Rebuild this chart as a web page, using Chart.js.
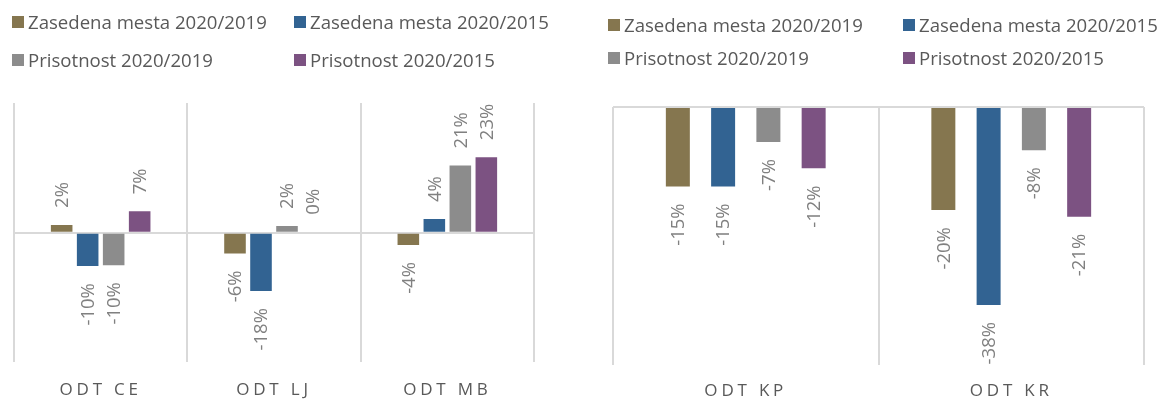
<!DOCTYPE html>
<html>
<head>
<meta charset="utf-8">
<script src="https://cdn.jsdelivr.net/npm/chart.js@4.4.1/dist/chart.umd.min.js"></script>
<style>
  html, body { margin: 0; padding: 0; background: #fff; }
  body { width: 1161px; height: 401px; position: relative; overflow: hidden; font-family: "Open Sans", sans-serif; }
  .panel { position: absolute; top: 0; height: 401px; overflow: hidden; }
  .panel canvas { position: absolute; left: 0; top: 0; }
  .item { position: absolute; height: 24px; line-height: 24px; font-size: 18.6px; color: #595959; white-space: nowrap; display: flex; align-items: center; }
  .item i { display: inline-block; width: 12px; height: 12px; margin-right: 4px; }
</style>
</head>
<body>
<div class="panel" id="leftPanel" style="left:0;width:580px;"><canvas id="leftChart" width="580" height="417"></canvas></div>
<div class="panel" id="rightPanel" style="left:580px;width:581px;"><canvas id="rightChart" width="581" height="417"></canvas></div>
<script>
// serije (v %)
const seriesNames = ['Zasedena mesta 2020/2019', 'Zasedena mesta 2020/2015', 'Prisotnost 2020/2019', 'Prisotnost 2020/2015'];
const seriesColors = ['#85764F', '#326392', '#8C8C8C', '#7C5282'];

const leftCats = ['ODT CE', 'ODT LJ', 'ODT MB'];
const leftZasedena19 = [2.4, -6.4, -3.8];
const leftZasedena15 = [-10.3, -18.0, 4.2];
const leftPrisotnost19 = [-10.0, 2.1, 20.7];
const leftPrisotnost15 = [6.6, 0.3, 23.3];

const rightCats = ['ODT KP', 'ODT KR'];
const rightZasedena19 = [-15.4, -20.0];
const rightZasedena15 = [-15.4, -38.4];
const rightPrisotnost19 = [-6.8, -8.4];
const rightPrisotnost15 = [-11.9, -21.3];

const fmtPct = (v) => Math.round(v) + '%';

// razmik črk v oznakah kategorij
const tickSpacing = {
  id: 'tickSpacing',
  beforeDraw(chart) { chart.ctx.letterSpacing = '3.8px'; },
  beforeDatasetsDraw(chart) { chart.ctx.letterSpacing = '0px'; }
};

// navpične oznake vrednosti nad/pod stolpci
const barLabels = {
  id: 'barLabels',
  afterDatasetsDraw(chart) {
    const ctx = chart.ctx;
    ctx.save();
    ctx.letterSpacing = '0px';
    ctx.font = '18.5px "Open Sans"';
    ctx.fillStyle = '#808080';
    ctx.textBaseline = 'middle';
    chart.data.datasets.forEach((ds, i) => {
      chart.getDatasetMeta(i).data.forEach((bar, j) => {
        const v = ds.data[j];
        const up = v >= 0;
        const y = up ? Math.min(bar.y, bar.base) - 17 : Math.max(bar.y, bar.base) + 17;
        ctx.save();
        ctx.translate(bar.x, y);
        ctx.rotate(-Math.PI / 2);
        ctx.textAlign = up ? 'left' : 'right';
        ctx.fillText(fmtPct(v), 0, 1);
        ctx.restore();
      });
    });
    ctx.restore();
  }
};

const makeChart = (id, cats, series, yMin, yMax, catPct, barPct, pad, tickPad) => new Chart(document.getElementById(id), {
  type: 'bar',
  data: {
    labels: cats,
    datasets: series.map((d, i) => ({
      label: seriesNames[i],
      data: d,
      backgroundColor: seriesColors[i],
      categoryPercentage: catPct,
      barPercentage: barPct
    }))
  },
  options: {
    responsive: false,
    animation: false,
    layout: { padding: pad },
    plugins: { legend: { display: false }, tooltip: { enabled: false } },
    scales: {
      x: {
        grid: { color: '#d9d9d9', lineWidth: 2, drawTicks: false, offset: true },
        border: { display: false },
        ticks: { color: '#595959', font: { family: 'Open Sans', size: 17 }, padding: tickPad, maxRotation: 0, autoSkip: false }
      },
      y: {
        min: yMin, max: yMax,
        ticks: { display: false, stepSize: 10 },
        grid: { drawTicks: false, lineWidth: 2, color: (c) => c.tick.value === 0 ? '#d9d9d9' : 'rgba(0,0,0,0)' },
        border: { display: false }
      }
    }
  },
  plugins: [tickSpacing, barLabels]
});

// legenda 2x2
const addLegend = (panelId, cols, rows) => {
  const panel = document.getElementById(panelId);
  seriesNames.forEach((name, i) => {
    const it = document.createElement('div');
    it.className = 'item';
    it.style.left = cols[i % 2] + 'px';
    it.style.top = (rows[Math.floor(i / 2)] - 12) + 'px';
    it.innerHTML = `<i style="background:${seriesColors[i]}"></i>${name}`;
    panel.appendChild(it);
  });
};

makeChart('leftChart', leftCats,
  [leftZasedena19, leftZasedena15, leftPrisotnost19, leftPrisotnost15],
  -40, 40, 0.6, 0.83, { left: 14, right: 46, top: 103, bottom: 0 }, 17.1);
makeChart('rightChart', rightCats,
  [rightZasedena19, rightZasedena15, rightPrisotnost19, rightPrisotnost15],
  -50, 0, 0.682, 0.53, { left: 33, right: 17, top: 107, bottom: 0 }, 15.9);

addLegend('leftPanel', [12, 294], [22, 59.5]);
addLegend('rightPanel', [28, 323], [25, 58]);
</script>
</body>
</html>
